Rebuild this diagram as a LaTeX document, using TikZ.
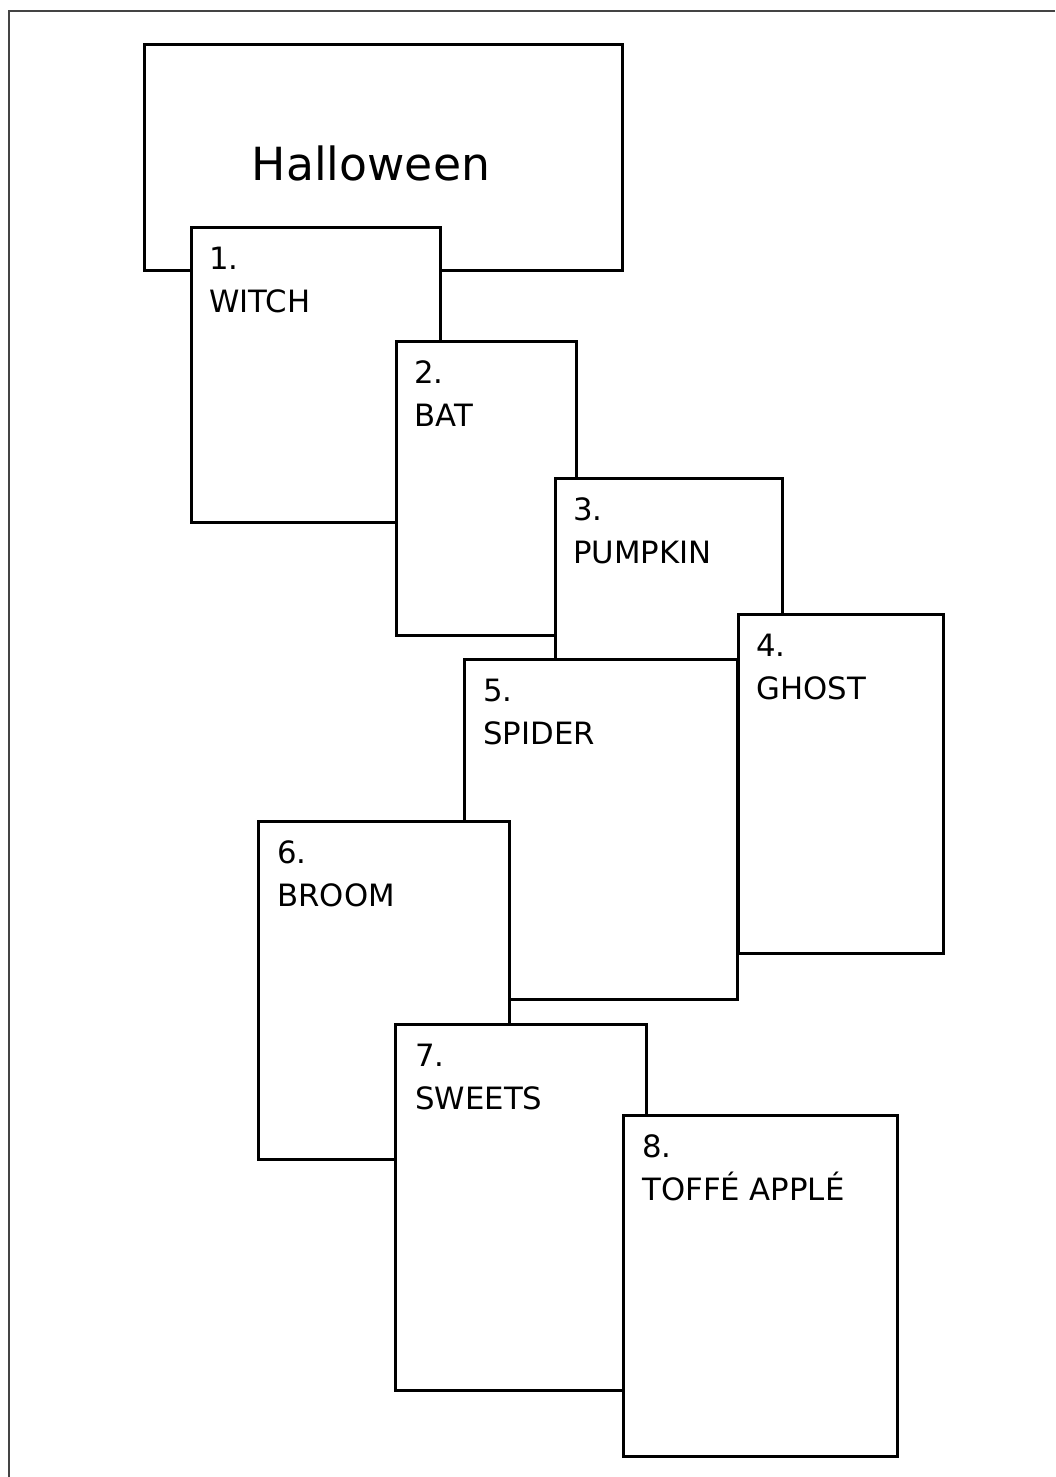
\documentclass[tikz,border=0pt]{standalone}
\usepackage{fontspec}
\setmainfont{DejaVu Sans}
\usepackage{xcolor}
\usepackage{tikz}
\usetikzlibrary{positioning,calc}
\definecolor{framegray}{HTML}{444444}

\begin{document}
\begin{tikzpicture}[x=0.02cm,y=-0.02cm]
        \tikzstyle{card}=[draw,line width=1.6pt,fill=white,anchor=north west,inner sep=0pt]
        \tikzstyle{ctext}=[anchor=base west,align=left,inner sep=0pt,font=\fontsize{17.5}{24}\selectfont]
        \useasboundingbox (0,0) rectangle (1055,1477);
        % page frame, cut off on the right and at the bottom
        \draw[framegray,line width=0.9pt] (1055,11) -- (9,11) -- (9,1477);
        % title card
        \node[card,minimum width=9.56cm,minimum height=4.52cm] (title) at (143,43) {};
        \node[anchor=base,inner sep=0pt,font=\fontsize{26}{30}\selectfont] (titletxt) at (371,180) {Halloween};
        % the cards, each one laid over the one before
        \node[card,minimum width=4.98cm,minimum height=5.90cm] (witch) at (190,226) {};
        \node[ctext] (witchtxt) at ($(witch.north west)+(19,86)$) {1.\\WITCH};
        \node[card,minimum width=3.60cm,minimum height=5.88cm] (bat) at (395,340) {};
        \node[ctext] (battxt) at ($(bat.north west)+(19,86)$) {2.\\BAT};
        \node[card,minimum width=4.54cm,minimum height=4.00cm] (pumpkin) at (554,477) {};
        \node[ctext] (pumpkintxt) at ($(pumpkin.north west)+(19,86)$) {3.\\PUMPKIN};
        \node[card,minimum width=5.46cm,minimum height=6.80cm] (spider) at (463,658) {};
        \node[ctext] (spidertxt) at ($(spider.north west)+(20,86)$) {5.\\SPIDER};
        \node[card,minimum width=4.10cm,minimum height=6.78cm] (ghost) at (737,613) {};
        \node[ctext] (ghosttxt) at ($(ghost.north west)+(19,86)$) {4.\\GHOST};
        \node[card,minimum width=5.02cm,minimum height=6.76cm] (broom) at (257,820) {};
        \node[ctext] (broomtxt) at ($(broom.north west)+(20,86)$) {6.\\BROOM};
        \node[card,minimum width=5.02cm,minimum height=7.32cm] (sweets) at (394,1023) {};
        \node[ctext] (sweetstxt) at ($(sweets.north west)+(21,86)$) {7.\\SWEETS};
        \node[card,minimum width=5.48cm,minimum height=6.82cm] (apple) at (622,1114) {};
        \node[ctext] (appletxt) at ($(apple.north west)+(20,86)$) {8.\\TOFFÉ APPLÉ};
      \end{tikzpicture}
\end{document}
